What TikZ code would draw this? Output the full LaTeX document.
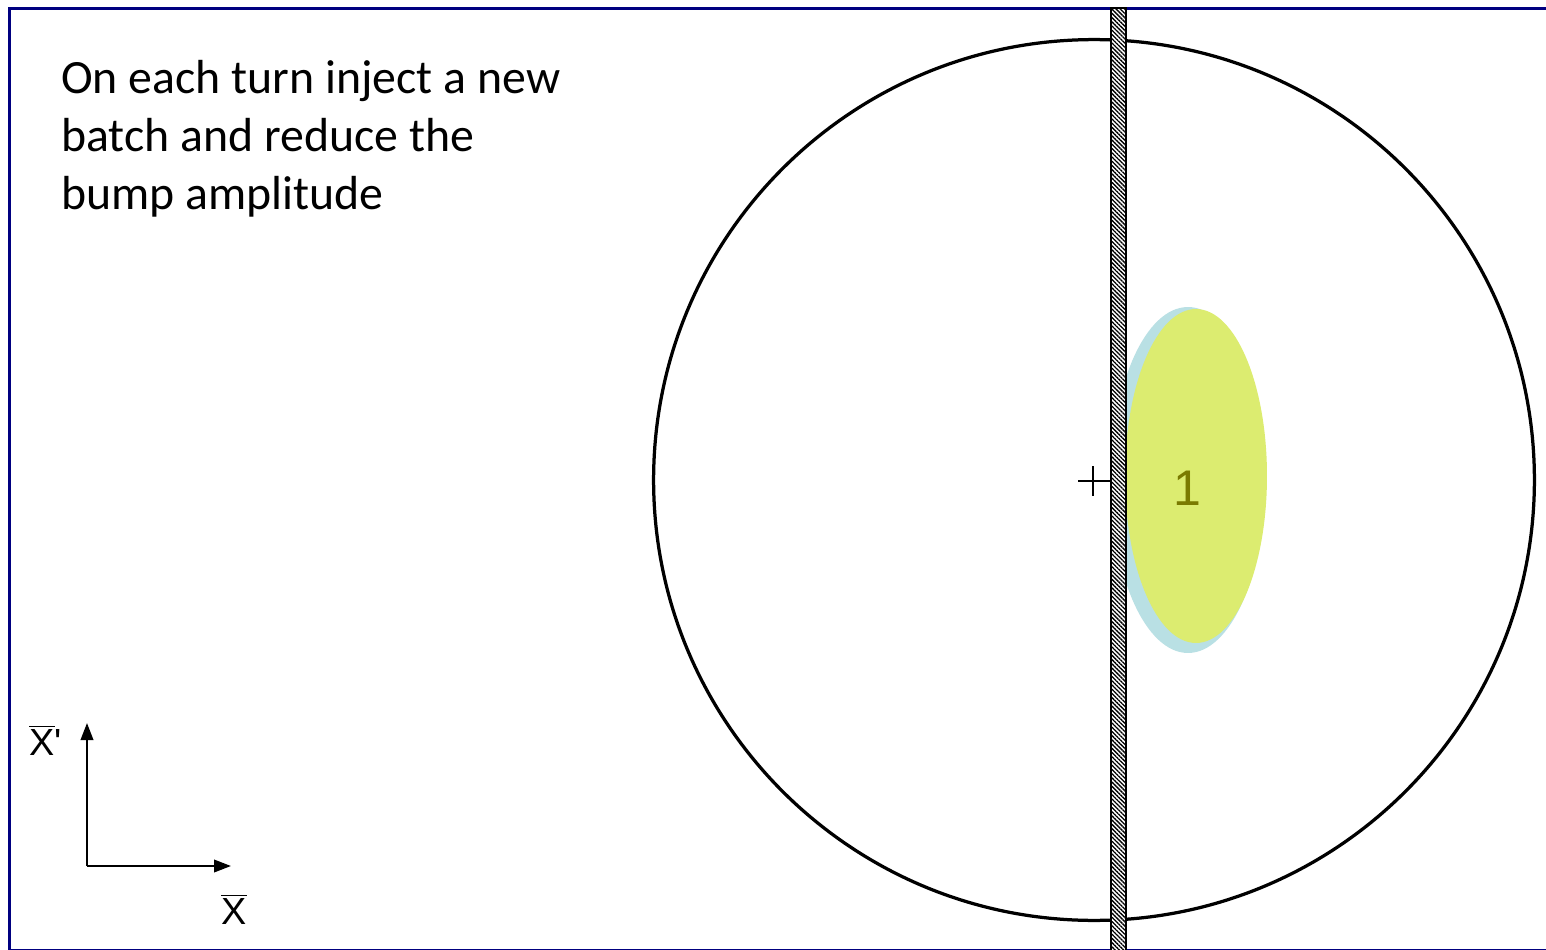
\documentclass[tikz,border=0pt]{standalone}
\usepackage{fontspec}
\setmainfont{Carlito}
\newfontfamily\arialf{Liberation Sans}
\usetikzlibrary{arrows.meta,patterns.meta}
\definecolor{navyc}{RGB}{0,0,128}
\definecolor{bluec}{RGB}{185,224,228}
\definecolor{greenc}{RGB}{220,236,112}
\definecolor{olivec}{RGB}{122,122,0}
\tikzset{
  frame/.style={draw=navyc, line width=0.065cm},
  ring/.style={line width=0.065cm},
  septum/.style={draw=black, line width=0.04cm, fill=white,
    postaction={pattern={Lines[angle=-45,distance=1.7pt,line width=0.75pt]}, pattern color=black}},
  crossline/.style={line width=0.03cm},
  axis/.style={line width=0.045cm, -{Triangle[length=0.34cm,width=0.25cm]}},
  bodytext/.style={anchor=base west, inner sep=0pt, font=\fontsize{27.2}{33}\selectfont},
  axlabel/.style={inner sep=0pt, font=\arialf\fontsize{21.5}{25}\selectfont},
  numlabel/.style={inner sep=0pt, text=olivec, font=\arialf\fontsize{28.5}{32}\selectfont}
}
\begin{document}
\begin{tikzpicture}[x=0.02cm,y=-0.02cm]
\useasboundingbox (0,0) rectangle (1546,950);
\fill[white] (0,0) rectangle (1546,950);
\clip (0,0) rectangle (1546,950);
% frame
\draw[frame] (9.5,8.5) rectangle (1600,950.5);
% acceptance circle
\draw[ring] (1094,480) circle[radius=8.81cm];
% injected batch
\fill[bluec] (1188,480) ellipse[x radius=1.54cm, y radius=3.46cm];
\fill[greenc] (1196,476) ellipse[x radius=1.42cm, y radius=3.34cm];
\node[numlabel] (one) at (1187,488) {1};
% septum
\draw[septum] (1110.5,8) rectangle (1125.5,965);
% closed orbit centre
\coordinate (c) at (1093,481);
\draw[crossline] (1078,481) -- (1110,481);
\draw[crossline] (1093,466) -- (1093,496);
% text
\node[bodytext] (t1) at (61,93) {On each turn inject a new};
\node[bodytext] (t2) at (61,151) {batch and reduce the};
\node[bodytext] (t3) at (61,209) {bump amplitude};
% axes
\coordinate (o) at (87,866);
\coordinate (ytip) at (87,723);
\coordinate (xtip) at (231,866);
\draw[axis] (o) -- (ytip);
\draw[axis] (o) -- (xtip);
\node[axlabel, anchor=base west] (xpl) at (29,755) {$\overline{\mbox{X}}$\textquotesingle};
\node[axlabel, anchor=base] (xl) at (234,924) {$\overline{\mbox{X}}$};
\end{tikzpicture}
\end{document}
